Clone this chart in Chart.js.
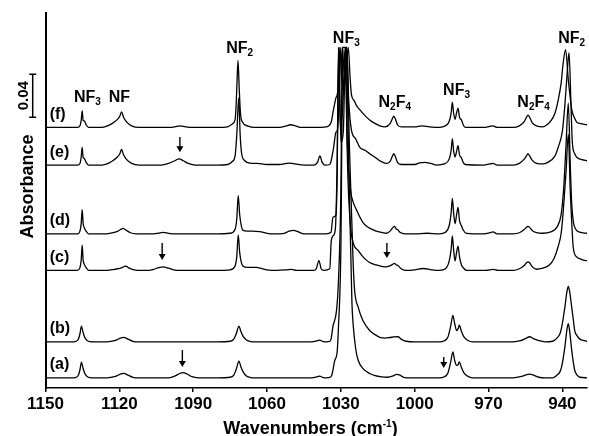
<!DOCTYPE html>
<html>
<head>
<meta charset="utf-8">
<script src="https://cdn.jsdelivr.net/npm/chart.js@4.4.1/dist/chart.umd.min.js"></script>
<style>
  body { margin: 0; background: #fff; }
  #wrap { width: 589px; height: 436px; }
</style>
</head>
<body>
<div id="wrap"><canvas id="spectra" width="589" height="436"></canvas></div>
<script>
// wavenumber axis (cm-1), drawn high -> low
const xMin = 930
const xMax = 1150
const tickValues = [1150, 1120, 1090, 1060, 1030, 1000, 970, 940]

// each trace: [wavenumber, absorbance in mA above its own baseline]
const traceA = [[1150,0.5],[1138.5,0.5],[1137.5,1],[1136.6,3],[1136,8],[1135.4,15],[1134.8,10],[1134.2,5.5],[1133.6,3],[1132.6,1],[1131,0.5],[1125,0.5],[1122,1.5],[1120,3.5],[1118.2,4.7],[1116.5,3],[1114.5,1],[1112,0.5],[1100,0.5],[1097.5,2],[1095.5,4.5],[1094.1,5.3],[1092.5,4],[1090.5,1.5],[1088,0.5],[1080,0.5],[1075,1],[1073.5,3],[1072.5,8.5],[1071.4,16],[1070.6,10.5],[1069.7,6],[1068.5,2.5],[1067,1],[1065,0.5],[1042,0.5],[1039.5,1.5],[1038.6,2],[1037.5,1],[1036,0.5],[1034,1.5],[1033.5,4.5],[1032.5,16.5],[1031.5,25],[1031,46.5],[1030,120],[1029.2,308],[1027.8,308],[1026.8,200],[1025.5,70],[1025,50],[1024,28],[1023,17],[1021,9],[1018.3,4.5],[1016,2.5],[1014,1.5],[1011,1],[1008.5,2.5],[1007.4,3.7],[1006,3],[1004.5,1],[1002,0.5],[990,0.5],[988,1.5],[986.5,5],[985.4,15],[984.5,24.7],[983.8,17],[983,12],[982.3,13],[981.9,15.4],[981,10],[980,5],[978.5,2],[976.5,0.5],[960,0.5],[957,1.5],[955,3],[953.3,4],[951.8,3],[949.5,1],[947,0.5],[944,0.5],[942.3,2.8],[941,6],[940.3,10.8],[939,29],[938.2,44.6],[937.6,51],[937,43],[936.2,26],[935.5,14],[935,7.5],[934,3],[932.9,1],[930,0.5]]

const traceB = [[1150,0.5],[1138.5,0.5],[1137.5,1],[1136.6,3],[1136,8],[1135.4,15],[1134.8,10],[1134.2,5.5],[1133.6,3],[1132.6,1],[1131,0.5],[1125,0.5],[1122,1.5],[1120,3.5],[1118.2,4.7],[1116.5,3],[1114.5,1],[1112,0.5],[1080,0.5],[1075,1],[1073.5,3],[1072.5,8],[1071.4,15],[1070.6,10],[1069.7,5.5],[1068.5,2.5],[1067,1],[1065,0.5],[1042,0.5],[1039.5,1.5],[1038.6,2],[1037.5,1],[1036,0.5],[1034.5,1],[1034,3],[1033.2,15],[1031.8,29],[1031,56],[1030,140],[1029.4,275],[1028.6,250],[1027.6,275],[1026.5,180],[1025,73],[1024.4,48],[1023,33],[1021,20],[1018.3,11],[1016,7],[1014.2,4.7],[1012,4],[1010,4.5],[1008.5,5],[1006.8,5.2],[1005.5,3],[1003.5,1],[1000,0.5],[990,0.5],[988,1.5],[986.5,5],[985.4,15],[984.5,25],[983.8,18],[983,11],[982.3,13],[981.9,16],[981,10],[980,5],[978.5,2],[976.5,0.5],[960,0.5],[957,1.5],[955,3.5],[953.3,5.2],[951.8,3.5],[949.5,1.5],[947,0.5],[944,1],[942.3,3.7],[941,8],[940.3,14],[939,32.5],[938.2,46.5],[937.6,52],[937,46.5],[936.2,32.5],[935.5,20],[935,11],[934,6],[932.9,3],[931,1.5],[930,1]]

const traceC = [[1150,0.5],[1137,0.5],[1136,3],[1135.5,10],[1135.1,24],[1134.7,10],[1134.2,6],[1133.5,3],[1132.5,0.5],[1125,0.5],[1122,1.5],[1119.5,2.5],[1117.4,4.4],[1116,2.5],[1114,1],[1111,0.5],[1108,0.5],[1106,1.5],[1104,3],[1102.2,3.7],[1100,2.5],[1098,1],[1095,0.5],[1080,0.5],[1075,1],[1073,4.5],[1072.3,13],[1071.7,33.5],[1071.1,17],[1070.4,7.5],[1069.7,4.4],[1068,3.2],[1066,3.2],[1064.3,3.2],[1062,2],[1060,1],[1056,0.5],[1052,1],[1050.1,1.4],[1048,0.5],[1041,0.5],[1040,2],[1038.9,9.5],[1038,2],[1037,0.5],[1034.5,2],[1033.9,28],[1033,33],[1032.2,40],[1031.6,90],[1030.8,208],[1030,120],[1029,130],[1028.1,208],[1027.3,100],[1026.2,45],[1025,26],[1023,19],[1021,13],[1018.5,8],[1015.6,5.5],[1013,4],[1011.5,3.7],[1010.3,4.5],[1009,6],[1008.2,7],[1007.5,5.5],[1006.8,5],[1005.5,2],[1003.8,0.5],[1000,1],[996.6,2.2],[993,1],[990,0.5],[987.5,2],[986,9],[985.2,20],[984.7,32.5],[984.2,20],[983.6,9.3],[983,17],[982.4,23],[981.8,13],[981,5.5],[980.3,3],[979,0.5],[971,0.5],[968.2,1.4],[966,0.5],[960,0.5],[957.5,2],[955.5,5],[954.6,7.5],[954,8.4],[953.3,7.5],[952.3,4],[950.5,1.5],[948,2.5],[945.3,5.5],[943.5,11],[941.8,22],[940.5,35],[939.7,54],[938.5,93],[937.6,127],[936.8,74],[936.2,45],[935.6,22],[934.2,13],[932.5,11],[931.5,10],[930,9.5]]

const traceD = [[1150,0.5],[1137,0.5],[1136,3],[1135.5,10],[1135.1,23],[1134.7,10],[1134.2,6],[1133.5,3],[1132.5,0.5],[1126,0.5],[1124,1],[1121,2.5],[1119.5,4.5],[1118.5,5.5],[1117.3,4],[1115.5,1.5],[1113,0.5],[1106,0.5],[1104,1.2],[1102.2,1.8],[1100,1],[1097,0.5],[1080,0.5],[1075,1],[1073,4.5],[1072.3,14],[1071.7,36],[1071.1,18],[1070.4,7.5],[1069.7,3.7],[1068,3],[1066,3],[1063,2.5],[1060,1],[1057,0.5],[1053,1],[1051,3],[1049.2,3.7],[1047.5,2.5],[1045,0.5],[1036,0.5],[1034,2],[1033.2,16],[1032,18],[1031.5,55],[1031,174],[1030.2,100],[1029.2,120],[1028.3,174],[1027.5,90],[1026,40],[1025,30],[1023.7,23],[1021,11],[1018.5,6],[1015.6,3],[1013,1.5],[1011.5,1],[1010,3],[1008.8,6.5],[1008.2,7.5],[1007.5,5],[1007,4.5],[1006,2],[1004,0.5],[1000,0.5],[995,1],[990,0.5],[987.5,2],[986,8],[985.2,20],[984.7,33.5],[984.2,20],[983.6,10],[983,18],[982.4,25],[981.8,13],[981,8],[980.3,4],[979,1],[972,0.5],[969.5,1.5],[968.2,2.3],[966.5,0.5],[960,0.5],[957.5,1.5],[955.5,4.5],[954.6,6.5],[954,7.5],[953.3,6.5],[952.3,3.5],[950.5,1.5],[948,1],[945,2],[942,7.5],[940.5,18.5],[939.5,42],[938.5,84],[937.6,122],[936.8,65],[936.2,28],[935.5,11],[934.5,4.5],[933,2],[930,1]]

const traceE = [[1150,0.5],[1137,0.5],[1136,2],[1135.5,8],[1135.1,17],[1134.7,7.5],[1134.2,6.5],[1133.5,3],[1132.5,0.5],[1127,0.5],[1125,1.5],[1123,4],[1121,7.5],[1119.8,11],[1119.1,15],[1118.3,10],[1117,5.5],[1115,2],[1112,0.5],[1103,0.5],[1100,2],[1097.5,4.5],[1095.7,6.2],[1094,4.5],[1092,2],[1089,0.5],[1080,0.5],[1076,1],[1074,4],[1073,8.5],[1072.3,28],[1071.5,63],[1070.9,28],[1070.3,11],[1069,4.5],[1067,2.3],[1064,2],[1060,1],[1055,1],[1052,2],[1050.8,2.2],[1048.5,1.5],[1045,0.5],[1041,0.5],[1039.5,3],[1038.5,9],[1037.6,3],[1036.5,0.5],[1034.5,1],[1034,4],[1033,16],[1032,31],[1031.4,33],[1030.8,56],[1030,110],[1029.2,70],[1028.5,75],[1027.6,110],[1026.8,60],[1025.7,33],[1024,25],[1022.3,17],[1020,14],[1018.3,11],[1016,7.5],[1014.2,4.5],[1011.5,2],[1010,4],[1009,9],[1008.5,11],[1007.8,8],[1007,3],[1005.5,1],[1000,1],[998,2.5],[996,3],[993.5,2],[991,0.5],[988,1.5],[986,6],[985.2,14],[984.7,25],[984.2,14],[983.6,8],[983,13],[982.4,18.5],[981.8,10],[981,7],[980.3,3],[979.5,1],[972,0.5],[969.5,1.5],[968.2,2],[966.5,0.5],[960,0.5],[957.5,2],[955.5,6],[954.6,9],[954,11],[953.3,9],[952.3,5],[950.5,2],[948,1.5],[946,3],[943,9],[941.7,17],[940,32],[939,56],[938,88],[937.3,105],[936.5,56],[936,23],[935,11],[934,7.5],[932,5.5],[930,4.5]]

const traceF = [[1150,0.5],[1140,0.5],[1137,0.5],[1136,2],[1135.5,7],[1135.1,16],[1134.7,7],[1134.2,6.5],[1133.5,3],[1132.5,0.5],[1128,0.5],[1126,1],[1123,4],[1121,7.5],[1119.8,11],[1119.1,15],[1118.3,10],[1117,5.5],[1115,2],[1112,0.5],[1100,0.5],[1097.5,1],[1095.4,2],[1093,1],[1090,0.5],[1080,0.5],[1076,1],[1074,4],[1073,7.5],[1072.6,19],[1072.2,42],[1071.8,63],[1071.3,37],[1070.8,14],[1070,5.5],[1068,2],[1065,0.5],[1055,0.5],[1052,2],[1050.5,3],[1048.5,2],[1046,0.5],[1040,0.5],[1036,1],[1034,5],[1033,17],[1032,28],[1031.4,32],[1030.9,46],[1030.4,75],[1029.6,45],[1028.6,40],[1027.8,55],[1027,75],[1026.2,45],[1025.7,31],[1024.5,25],[1023.7,21],[1022.3,17],[1020,11],[1018.3,7.5],[1016,4],[1014.2,2],[1012,1],[1010,4],[1009,9],[1008.5,11],[1007.8,8],[1007,3],[1005.5,1],[1000,1],[997,2],[994,1],[990,0.5],[987.5,2],[986,6],[985.2,14],[984.7,24],[984.2,14],[983.6,8],[983,14],[982.4,18.5],[981.8,10],[981,7.5],[980.3,3],[979.5,0.5],[972,0.5],[969.5,1.5],[968.2,2],[966.5,0.5],[960,0.5],[957.5,2],[955.5,6],[954.6,10],[954,12],[953.3,10],[952.3,5],[950.5,2],[948,1],[946,3.5],[944.4,7.5],[943,14],[941.7,26],[940.5,42],[939.7,60],[938.7,73],[937.6,45],[936.9,30],[936.2,17],[935,9],[934.2,5.5],[932.5,4],[931.5,3.5],[930,3]]

const traces = [traceA, traceB, traceC, traceD, traceE, traceF]
const traceLabels = ["(a)", "(b)", "(c)", "(d)", "(e)", "(f)"]
// vertical stacking offset of each trace, mA
const baselines = [9, 42.5, 109, 143, 207, 242]

// band assignments: text, wavenumber, absorbance of label baseline
const peakLabels = [
    { text: "NF3", wn: 1133, abs: 0.266 },
    { text: "NF", wn: 1120, abs: 0.266 },
    { text: "NF2", wn: 1071.1, abs: 0.3116 },
    { text: "NF3", wn: 1027.8, abs: 0.321 },
    { text: "N2F4", wn: 1008.1, abs: 0.2614 },
    { text: "NF3", wn: 983, abs: 0.2726 },
    { text: "N2F4", wn: 951.7, abs: 0.2614 },
    { text: "NF2", wn: 936.2, abs: 0.321 },
]

// downward arrows: wavenumber, top and tip absorbance
const arrows = [
    { wn: 1095.4, from: 0.2335, to: 0.2195 },
    { wn: 1102.6, from: 0.1349, to: 0.1191 },
    { wn: 1094.4, from: 0.0353, to: 0.0195 },
    { wn: 1011.3, from: 0.1349, to: 0.1209 },
    { wn: 988.2, from: 0.0288, to: 0.0186 },
]

const fontFamily = "'Liberation Sans', Arial, Helvetica, sans-serif"

// chemical formula with digits as subscripts, centred on cx
function drawChem(ctx, text, cx, y) {
    let parts = text.split("").map(c => ({ c: c, sub: /[0-9]/.test(c) }))
    let w = 0
    parts.forEach(p => {
        ctx.font = p.sub ? "bold 10px " + fontFamily : "bold 16px " + fontFamily
        p.w = ctx.measureText(p.c).width
        w += p.w
    })
    let x = cx - w / 2
    ctx.textAlign = "left"
    ctx.textBaseline = "alphabetic"
    parts.forEach(p => {
        ctx.font = p.sub ? "bold 10px " + fontFamily : "bold 16px " + fontFamily
        ctx.fillText(p.c, x, p.sub ? y + 3 : y)
        x += p.w
    })
}

function drawArrow(ctx, x, y1, y2) {
    ctx.lineWidth = 1.4
    ctx.beginPath()
    ctx.moveTo(x, y1)
    ctx.lineTo(x, y2 - 4)
    ctx.stroke()
    ctx.beginPath()
    ctx.moveTo(x - 3.5, y2 - 6)
    ctx.lineTo(x + 3.5, y2 - 6)
    ctx.lineTo(x, y2)
    ctx.closePath()
    ctx.fill()
}

const annotate = {
    id: "annotate",
    afterDatasetsDraw(chart) {
        const ctx = chart.ctx
        const px = v => chart.scales.x.getPixelForValue(v)
        const py = v => chart.scales.y.getPixelForValue(v)
        ctx.save()
        ctx.fillStyle = "#000"
        ctx.strokeStyle = "#000"

        peakLabels.forEach(p => drawChem(ctx, p.text, px(p.wn), py(p.abs)))

        ctx.font = "bold 16px " + fontFamily
        ctx.textAlign = "left"
        ctx.textBaseline = "middle"
        traceLabels.forEach((t, i) => ctx.fillText(t, px(1148.3), py((baselines[i] + 12.5) / 1000)))

        arrows.forEach(a => drawArrow(ctx, px(a.wn), py(a.from), py(a.to)))

        // 0.04 scale bar left of the axis
        let bx = px(1155.2)
        let top = py(0.292)
        let bot = py(0.252)
        ctx.lineWidth = 1.5
        ctx.beginPath()
        ctx.moveTo(bx, top)
        ctx.lineTo(bx, bot)
        ctx.moveTo(bx - 3.5, top)
        ctx.lineTo(bx + 3.5, top)
        ctx.moveTo(bx - 3.5, bot)
        ctx.lineTo(bx + 3.5, bot)
        ctx.stroke()

        ctx.save()
        ctx.translate(27.5, (top + bot) / 2)
        ctx.rotate(-Math.PI / 2)
        ctx.font = "bold 15px " + fontFamily
        ctx.textAlign = "center"
        ctx.textBaseline = "alphabetic"
        ctx.fillText("0.04", 0, 0)
        ctx.restore()

        ctx.save()
        ctx.translate(33, 186.5)
        ctx.rotate(-Math.PI / 2)
        ctx.font = "bold 18px " + fontFamily
        ctx.textAlign = "center"
        ctx.textBaseline = "alphabetic"
        ctx.fillText("Absorbance", 0, 0)
        ctx.restore()

        // x title with superscript
        let big = "bold 18px " + fontFamily
        let small = "bold 10px " + fontFamily
        ctx.font = big
        let w1 = ctx.measureText("Wavenumbers (cm").width
        let w3 = ctx.measureText(")").width
        ctx.font = small
        let w2 = ctx.measureText("-1").width
        let x0 = 310.5 - (w1 + w2 + w3) / 2
        let yb = 434
        ctx.textAlign = "left"
        ctx.textBaseline = "alphabetic"
        ctx.font = big
        ctx.fillText("Wavenumbers (cm", x0, yb)
        ctx.font = small
        ctx.fillText("-1", x0 + w1, yb - 7)
        ctx.font = big
        ctx.fillText(")", x0 + w1 + w2, yb)
        ctx.restore()
    },
}

const datasets = traces.map((trace, i) => ({
    label: traceLabels[i],
    data: trace.map(([w, m]) => ({ x: w, y: (m + baselines[i]) / 1000 })),
    borderColor: "#000",
    borderWidth: 1.3,
    pointRadius: 0,
    fill: false,
    cubicInterpolationMode: "monotone",
}))

new Chart(document.getElementById("spectra"), {
    type: "line",
    data: { datasets: datasets },
    options: {
        responsive: false,
        animation: false,
        events: [],
        layout: { padding: { top: 13, right: 2, left: 0, bottom: 0 } },
        plugins: { legend: { display: false }, tooltip: { enabled: false } },
        scales: {
            x: {
                type: "linear",
                reverse: true,
                min: xMin,
                max: xMax,
                afterBuildTicks: s => {
                    s.ticks = tickValues.map(v => ({ value: v }))
                },
                afterFit: s => {
                    s.height = 48
                },
                ticks: {
                    color: "#000",
                    font: { family: fontFamily, size: 17, weight: "bold" },
                    padding: 2,
                    maxRotation: 0,
                    autoSkip: false,
                    callback: v => String(v),
                },
                grid: { display: true, drawOnChartArea: false, drawTicks: true, tickLength: 4, color: "#000", lineWidth: 1.5 },
                border: { display: true, color: "#000", width: 1.5 },
            },
            y: {
                min: 0,
                max: 0.349,
                afterFit: s => {
                    s.width = 45.5
                },
                ticks: { display: false },
                grid: { display: false },
                border: { display: true, color: "#000", width: 2 },
            },
        },
    },
    plugins: [annotate],
})
</script>
</body>
</html>
